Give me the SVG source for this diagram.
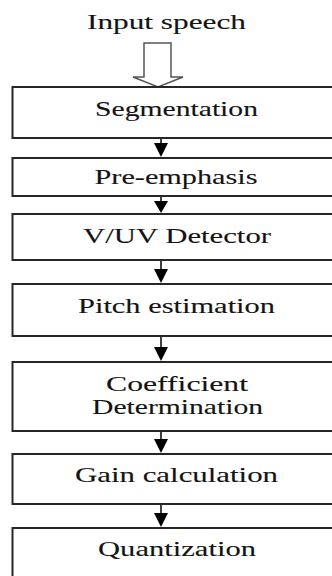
<svg xmlns="http://www.w3.org/2000/svg" width="332" height="576" viewBox="0 0 332 576">
<style>
.box{fill:#fff;stroke:#262626;stroke-width:2}
.ln{stroke:#111;stroke-width:1.6;fill:none}
.hd{fill:#000}
.t{font-family:'Liberation Serif','Times New Roman',serif;font-size:22px;fill:#141414;stroke:#141414;stroke-width:0.12;text-anchor:middle}
</style>
<rect width="332" height="576" fill="#fff"/>
<text class="t" x="166.5" y="29" textLength="159" lengthAdjust="spacingAndGlyphs">Input speech</text>
<g id="connectors">
<path d="M144,43 V77 H133 L158,87 L183,77 H171 V43 Z" fill="#fff" stroke="#555" stroke-width="1.5" stroke-linejoin="miter"/>
<line class="ln" x1="161" y1="138" x2="161" y2="144"/>
<path class="hd" d="M154,143 H168 L161,157 Z"/>
<line class="ln" x1="161" y1="196" x2="161" y2="202"/>
<path class="hd" d="M154,201 H168 L161,213 Z"/>
<line class="ln" x1="161" y1="260" x2="161" y2="270"/>
<path class="hd" d="M154,269 H168 L161,283 Z"/>
<line class="ln" x1="161" y1="336" x2="161" y2="348"/>
<path class="hd" d="M154,347 H168 L161,361 Z"/>
<line class="ln" x1="161" y1="431" x2="161" y2="440"/>
<path class="hd" d="M154,439 H168 L161,453 Z"/>
<line class="ln" x1="161" y1="504" x2="161" y2="514"/>
<path class="hd" d="M154,513 H168 L161,527 Z"/>
</g>
<g id="segmentation"><rect class="box" x="12.5" y="87" width="330" height="51"/><text class="t" x="176.5" y="116" textLength="163" lengthAdjust="spacingAndGlyphs">Segmentation</text></g>
<g id="preemphasis"><rect class="box" x="12.5" y="158" width="330" height="38"/><text class="t" x="176" y="184" textLength="163" lengthAdjust="spacingAndGlyphs">Pre-emphasis</text></g>
<g id="vuv"><rect class="box" x="12.5" y="214" width="330" height="46"/><text class="t" x="177" y="243" textLength="188" lengthAdjust="spacingAndGlyphs">V/UV Detector</text></g>
<g id="pitch"><rect class="box" x="12.5" y="284" width="330" height="52"/><text class="t" x="176.5" y="313" textLength="197" lengthAdjust="spacingAndGlyphs">Pitch estimation</text></g>
<g id="coefficient"><rect class="box" x="12.5" y="362" width="330" height="69"/><text class="t" x="177" y="391" textLength="142" lengthAdjust="spacingAndGlyphs">Coefficient</text><text class="t" x="177.5" y="414" textLength="171" lengthAdjust="spacingAndGlyphs">Determination</text></g>
<g id="gain"><rect class="box" x="12.5" y="454" width="330" height="50"/><text class="t" x="176.5" y="482" textLength="203" lengthAdjust="spacingAndGlyphs">Gain calculation</text></g>
<g id="quantization"><rect class="box" x="12.5" y="528" width="330" height="60"/><text class="t" x="177" y="556" textLength="158" lengthAdjust="spacingAndGlyphs">Quantization</text></g>
</svg>
